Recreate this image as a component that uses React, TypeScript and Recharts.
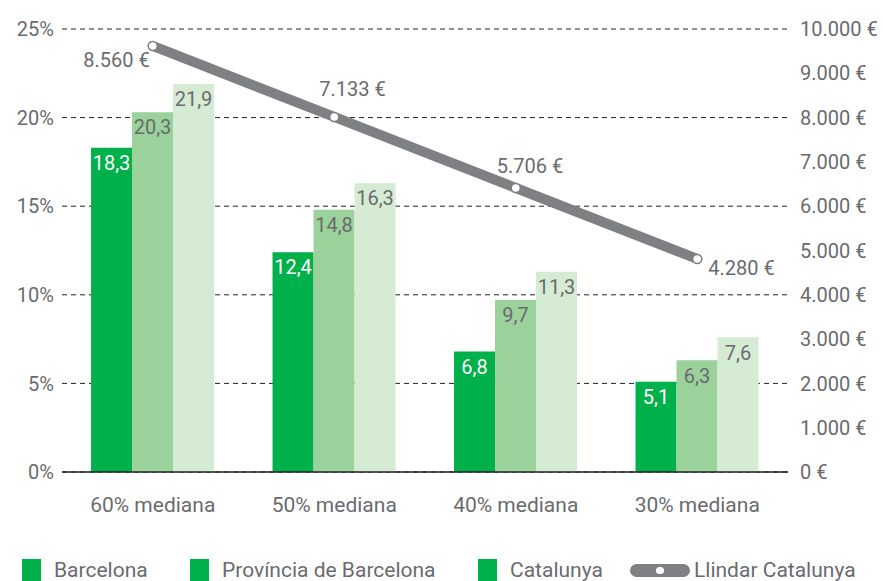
import React from "react";
import {
  ComposedChart,
  Bar,
  Line,
  XAxis,
  YAxis,
  CartesianGrid,
  LabelList,
} from "recharts";

const categories = ["60% mediana", "50% mediana", "40% mediana", "30% mediana"];
const barcelona = [18.3, 12.4, 6.8, 5.1];
const provincia = [20.3, 14.8, 9.7, 6.3];
const catalunya = [21.9, 16.3, 11.3, 7.6];
const llindar = [8560, 7133, 5706, 4280];

const pctTicks = [0, 5, 10, 15, 20, 25];
const eurTicks = [0, 1000, 2000, 3000, 4000, 5000, 6000, 7000, 8000, 9000, 10000];

const FONT = "Roboto, 'Noto Sans', sans-serif";
const TEXT = "#6a6b6e";
const GREEN = "#00b04a";
const GREEN_MID = "#9bd19a";
const GREEN_LIGHT = "#d5ebd4";
const GREY_LINE = "#7f8083";

const data = categories.map((name, i) => ({
  name,
  barcelona: barcelona[i],
  provincia: provincia[i],
  catalunya: catalunya[i],
  llindar: llindar[i],
}));

const comma = (v: number) => String(v).replace(".", ",");
const euros = (v: number) =>
  String(v).replace(/\B(?=(\d{3})+(?!\d))/g, ".") + " €";

// label placement around each point of the line (anchor, dx, dy)
const lineLabelPos: [string, number, number][] = [
  ["end", -3, 14],
  ["start", -15, -28],
  ["start", -19, -22],
  ["start", 11, 9],
];

function LineLabel(props: any) {
  const { x, y, index, value } = props;
  const [anchor, dx, dy] = lineLabelPos[index] || ["start", 0, 0];
  return (
    <text
      x={x + dx}
      y={y + dy}
      textAnchor={anchor}
      dominantBaseline="central"
      fill={TEXT}
      fontSize={20}
      fontFamily={FONT}
    >
      {euros(value)}
    </text>
  );
}

function LineDot(props: any) {
  const { cx, cy } = props;
  return <circle cx={cx} cy={cy} r={4.5} fill="#fff" stroke={GREY_LINE} strokeWidth={1.5} />;
}

const legendItems = [
  { label: "Barcelona", left: 22, color: GREEN },
  { label: "Província de Barcelona", left: 190, color: GREEN },
  { label: "Catalunya", left: 478, color: GREEN },
];

export default function App() {
  const tick = { fill: TEXT, fontSize: 20, fontFamily: FONT };
  return (
    <div style={{ position: "absolute", left: 0, top: 0, width: 883, height: 581, background: "#fff", overflow: "hidden" }}>
      <ComposedChart
        width={883}
        height={532}
        data={data}
        margin={{ top: 29, right: 0, left: 0, bottom: 0 }}
        barCategoryGap="16%"
        barGap={0}
      >
        <CartesianGrid
          yAxisId="pct"
          vertical={false}
          stroke="#222"
          strokeDasharray="5 4"
        />
        <XAxis
          dataKey="name"
          height={60}
          tickLine={false}
          tickMargin={19}
          axisLine={{ stroke: "#222", strokeWidth: 1.5 }}
          tick={{ ...tick, fontSize: 21 }}
        />
        <YAxis
          yAxisId="pct"
          width={62}
          domain={[0, 25]}
          ticks={pctTicks}
          tickFormatter={(v) => `${v}%`}
          axisLine={false}
          tickLine={false}
          tick={tick}
        />
        <YAxis
          yAxisId="eur"
          orientation="right"
          width={95}
          domain={[0, 10000]}
          ticks={eurTicks}
          tickFormatter={euros}
          axisLine={false}
          tickLine={false}
          tickMargin={6}
          tick={{ ...tick, textAnchor: "start" }}
        />
        <YAxis yAxisId="line" orientation="right" hide domain={[0, 8900]} />
        <Bar yAxisId="pct" dataKey="barcelona" fill={GREEN} isAnimationActive={false}>
          <LabelList
            dataKey="barcelona"
            position="insideTop"
            offset={8}
            formatter={(v: any) => comma(v)}
            fill="#fff"
            fontSize={20}
            fontFamily={FONT}
          />
        </Bar>
        <Bar yAxisId="pct" dataKey="provincia" fill={GREEN_MID} isAnimationActive={false}>
          <LabelList
            dataKey="provincia"
            position="insideTop"
            offset={8}
            formatter={(v: any) => comma(v)}
            fill={TEXT}
            fontSize={20}
            fontFamily={FONT}
          />
        </Bar>
        <Bar yAxisId="pct" dataKey="catalunya" fill={GREEN_LIGHT} isAnimationActive={false}>
          <LabelList
            dataKey="catalunya"
            position="insideTop"
            offset={8}
            formatter={(v: any) => comma(v)}
            fill={TEXT}
            fontSize={20}
            fontFamily={FONT}
          />
        </Bar>
        {/* keeps the euro axis alive; draws nothing */}
        <Line
          yAxisId="eur"
          dataKey="llindar"
          stroke="none"
          dot={false}
          activeDot={false}
          legendType="none"
          isAnimationActive={false}
        />
        <Line
          yAxisId="line"
          dataKey="llindar"
          stroke={GREY_LINE}
          strokeWidth={10}
          strokeLinecap="round"
          dot={<LineDot />}
          activeDot={false}
          isAnimationActive={false}
        >
          <LabelList dataKey="llindar" content={<LineLabel />} />
        </Line>
      </ComposedChart>
      {legendItems.map((it) => (
        <div
          key={it.label}
          style={{ position: "absolute", left: it.left, top: 558, display: "flex", alignItems: "center", fontFamily: FONT, fontSize: 21, color: TEXT }}
        >
          <span style={{ display: "inline-block", width: 19, height: 23, background: it.color, marginRight: 13 }} />
          <span>{it.label}</span>
        </div>
      ))}
      <div
        style={{ position: "absolute", left: 630, top: 558, display: "flex", alignItems: "center", fontFamily: FONT, fontSize: 21, color: TEXT }}
      >
        <span style={{ position: "relative", display: "inline-block", width: 60, height: 13, borderRadius: 7, background: GREY_LINE, marginRight: 4 }}>
          <span style={{ position: "absolute", left: 26, top: 3, width: 8, height: 7, borderRadius: 4, background: "#fff" }} />
        </span>
        <span>Llindar Catalunya</span>
      </div>
    </div>
  );
}
